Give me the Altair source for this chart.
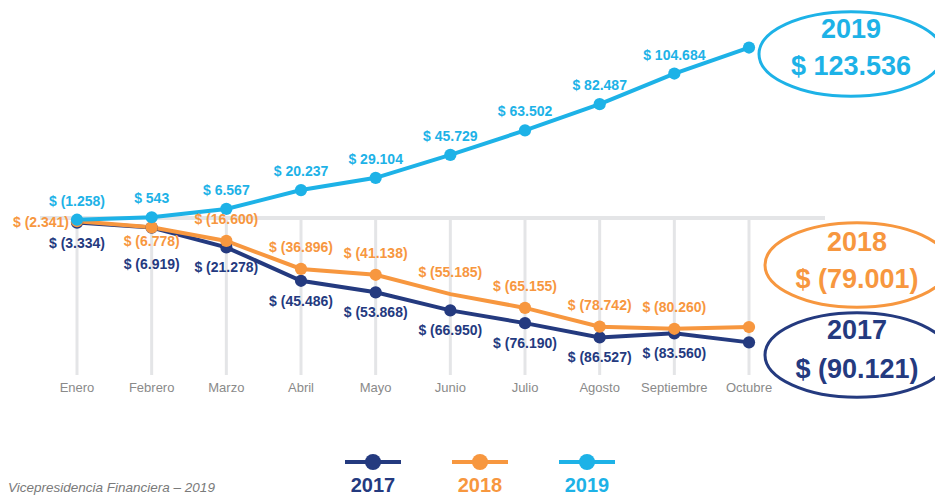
import altair as alt
import pandas as pd

# ---------------- data ----------------
months = ["Enero", "Febrero", "Marzo", "Abril", "Mayo", "Junio",
          "Julio", "Agosto", "Septiembre", "Octubre"]
years = ["2017", "2018", "2019"]
v2017 = [-3334, -6919, -21278, -45486, -53868, -66950, -76190, -86527, -83560, -90121]
v2018 = [-2341, -6778, -16600, -36896, -41138, -55185, -65155, -78742, -80260, -79001]
v2019 = [-1258, 543, 6567, 20237, 29104, 45729, 63502, 82487, 104684, 123536]
footer = "Vicepresidencia Financiera – 2019"

# ---------------- style ----------------
colors = ["#243a7f", "#f7973f", "#1db2e7"]
GRID = "#e4e5e7"
FONT = "Liberation Sans, Arial, sans-serif"
W, H = 927, 487


def fmt(v):
    s = f"{abs(v):,}".replace(",", ".")
    return f"$ ({s})" if v < 0 else f"$ {s}"


rows = []
for yr, vals in zip(years, [v2017, v2018, v2019]):
    for m, v in zip(months, vals):
        rows.append({"year": yr, "month": m, "value": v, "label": fmt(v)})
df = pd.DataFrame(rows)

# y scale: zero at 210px, 1.38 px per 1000
zero_px, k = 210, 1.38 / 1000
ymax = zero_px / k
ymin = -(H - zero_px) / k
grid_bottom = -(367 - zero_px) / k

X = alt.X("month:N",
          scale=alt.Scale(type="point", domain=months, range=[69, 741], padding=0),
          axis=None)
Y = alt.Y("value:Q", scale=alt.Scale(domain=[ymin, ymax], nice=False, zero=False), axis=None)
C = alt.Color("year:N", scale=alt.Scale(domain=years, range=colors), legend=None)

gdf = pd.DataFrame({"month": months, "zero": [0] * len(months),
                    "bottom": [grid_bottom] * len(months)})
one = pd.DataFrame({"zero": [0], "foot": [footer]})

grid_v = alt.Chart(gdf).mark_rule(color=GRID, strokeWidth=3).encode(
    x=X, y=alt.Y("zero:Q", axis=None), y2=alt.Y2("bottom:Q"))
zero_line = alt.Chart(one).mark_rule(color=GRID, strokeWidth=4).encode(
    x=alt.value(32), x2=alt.value(817), y=alt.Y("zero:Q", axis=None))
month_lbl = alt.Chart(gdf).mark_text(font=FONT, fontSize=13, color="#8a8a8a").encode(
    x=X, y=alt.value(380), text="month:N")

base = alt.Chart(df)
lines = base.mark_line(strokeWidth=4).encode(x=X, y=Y, color=C, detail="year:N")
points = base.mark_circle(size=150, opacity=1).encode(x=X, y=Y, color=C).transform_filter(
    "!(datum.year == '2018' && datum.month == 'Junio')")


def txt(filt, **kw):
    return base.mark_text(font=FONT, fontSize=14, fontWeight="bold", **kw).encode(
        x=X, y=Y, text="label:N", color=C).transform_filter(filt)


labels = [
    txt("datum.year == '2019' && datum.month != 'Octubre'", dy=-18),
    txt("datum.year == '2018' && datum.month != 'Enero' && datum.month != 'Febrero' && datum.month != 'Octubre'", dy=-21),
    txt("datum.year == '2018' && datum.month == 'Enero'", dy=2, dx=-8, align="right"),
    txt("datum.year == '2018' && datum.month == 'Febrero'", dy=15),
    txt("datum.year == '2017' && datum.month != 'Febrero' && datum.month != 'Octubre'", dy=21),
    txt("datum.year == '2017' && datum.month == 'Febrero'", dy=37),
]

# ---------------- legend (custom) ----------------
legend = []
for yr, c, cx in zip(years, colors, [365, 472, 579]):
    ldf = pd.DataFrame({"year": [yr]})
    lc = alt.Chart(ldf)
    legend += [
        lc.mark_rule(color=c, strokeWidth=4).encode(
            x=alt.value(cx - 28), x2=alt.value(cx + 28), y=alt.value(454)),
        lc.mark_circle(color=c, size=260, opacity=1).encode(x=alt.value(cx), y=alt.value(454)),
        lc.mark_text(color=c, font=FONT, fontSize=20, fontWeight="bold").encode(
            x=alt.value(cx), y=alt.value(478), text="year:N"),
    ]

# ---------------- ellipse annotations ----------------
ELLIPSE = ("M -1 0 C -1 -0.254 -0.552 -0.46 0 -0.46 C 0.552 -0.46 1 -0.254 1 0 "
           "C 1 0.254 0.552 0.46 0 0.46 C -0.552 0.46 -1 0.254 -1 0 Z")
ann = []
finals = [v2017[-1], v2018[-1], v2019[-1]]
ann_pos = {"2019": (843, 46, 22, 59), "2018": (849, 257, 235, 272), "2017": (849, 347, 323, 362)}
for yr, c, fv in zip(years, colors, finals):
    cx, cy, t1, t2 = ann_pos[yr]
    adf = pd.DataFrame({"year": [yr], "amount": [fmt(fv)]})
    ac = alt.Chart(adf)
    ann += [
        ac.mark_point(shape=ELLIPSE, size=184 * 184, filled=False, color=c,
                      strokeWidth=3, opacity=1).encode(x=alt.value(cx), y=alt.value(cy)),
        ac.mark_text(color=c, font=FONT, fontSize=27, fontWeight="bold").encode(
            x=alt.value(cx), y=alt.value(t1), text="year:N"),
        ac.mark_text(color=c, font=FONT, fontSize=27, fontWeight="bold").encode(
            x=alt.value(cx), y=alt.value(t2), text="amount:N"),
    ]

foot = alt.Chart(one).mark_text(font=FONT, fontSize=13.5, fontStyle="italic", color="#7a7a7a",
                                align="left").encode(
    x=alt.value(0), y=alt.value(480), text="foot:N")

chart = alt.layer(
    grid_v, zero_line, month_lbl, lines, points, *labels, *legend, *ann, foot
).properties(
    width=W, height=H, padding=0, autosize="none", background="white"
).configure_view(stroke=None)

chart.save("out.html", embed_options={"renderer": "svg", "actions": False})
